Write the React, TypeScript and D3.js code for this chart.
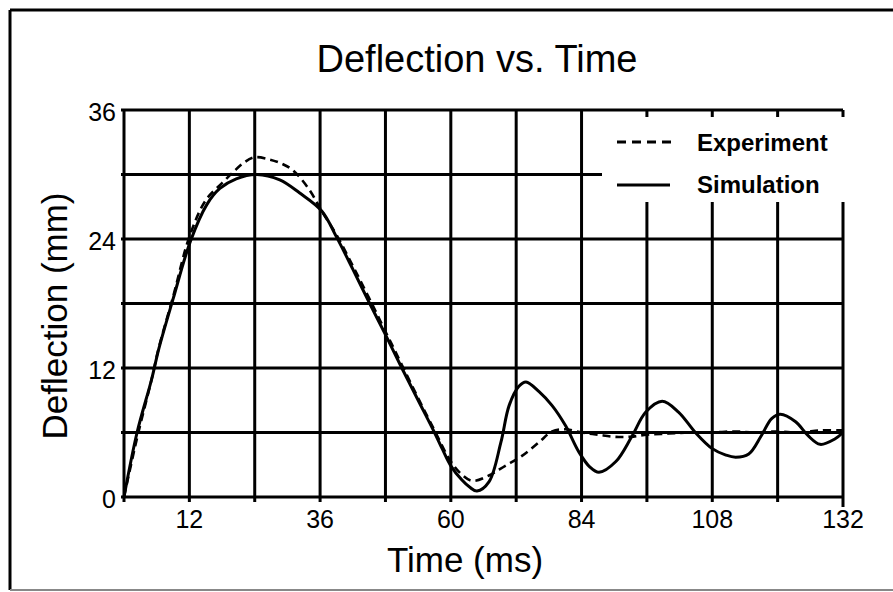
import React from "react";
import * as d3 from "d3";

const timeSim = [0, 2.4, 5.1, 6.4, 9, 12.2, 15.2, 17.6, 20.6, 24.4, 28.6, 32.2, 36.3, 39, 42, 45, 48, 51, 54, 57, 58.5, 60, 62, 63.5, 64.8, 67, 69.2, 70.7, 72.5, 73.8, 76.2, 78.6, 81.1, 83.5, 85.5, 87.2, 90.3, 93.2, 95.8, 98.8, 101.8, 104.9, 108, 110.5, 112.3, 114.7, 117, 118.9, 120.5, 123.3, 125.6, 127.8, 130.5, 132];
const simulation = [0, 6, 11, 13.8, 18.4, 23.8, 27.2, 28.7, 29.6, 30, 29.5, 28.3, 26.6, 24.2, 21.2, 18.1, 15.1, 12, 9, 6, 4.4, 2.9, 1.6, 0.9, 0.55, 1.4, 5.1, 8.5, 10.3, 10.7, 9.8, 8.5, 6.6, 4.2, 2.8, 2.3, 3.3, 5.6, 7.9, 8.9, 7.9, 6, 4.5, 3.9, 3.7, 4, 5.7, 7.3, 7.7, 7, 5.7, 4.9, 5.4, 6];

const timeExp = [0, 2.4, 5, 6.4, 9, 12, 15, 18, 20, 22, 24, 26.7, 29, 31, 34, 36.3, 39, 42, 45, 48, 51, 54, 57, 60, 62, 64, 67, 70, 73, 76.2, 78.6, 81, 84, 87, 90, 93, 96, 100, 104, 108, 112, 116, 120, 124, 128, 132];
const experiment = [0, 5.5, 10.8, 13.9, 18.6, 24.2, 27.6, 29.2, 30.2, 31.1, 31.6, 31.4, 31.0, 30.4, 28.6, 26.6, 24.4, 21.5, 18.5, 15.4, 12.3, 9.2, 6.2, 3.3, 2.1, 1.5, 2, 2.9, 3.8, 5.1, 6.1, 6.3, 6.0, 5.8, 5.6, 5.6, 5.8, 5.9, 6.0, 6.0, 6.1, 6.0, 6.1, 6.0, 6.2, 6.2];

const xTickLabels = [12, 36, 60, 84, 108, 132];
const xGrid = [0, 12, 24, 36, 48, 60, 72, 84, 96, 108, 120, 132];
const yTickLabels = [0, 12, 24, 36];
const yGrid = [0, 6, 12, 18, 24, 30, 36];

const FONT = "'Liberation Sans', Arial, Helvetica, sans-serif";

export default function App() {
  const W = 893, H = 592;
  const x = d3.scaleLinear().domain([0, 132]).range([124, 843]);
  const y = d3.scaleLinear().domain([0, 36]).range([497, 110]);

  const line = d3.line<[number, number]>()
    .x(d => x(d[0]))
    .y(d => y(d[1]))
    .curve(d3.curveCatmullRom.alpha(0.5));

  const simPath = line(timeSim.map((t, i) => [t, simulation[i]]) as [number, number][]) || "";
  const expPath = line(timeExp.map((t, i) => [t, experiment[i]]) as [number, number][]) || "";

  return (
    <svg width={W} height={H} style={{ position: "absolute", left: 0, top: 0, background: "#fff" }}>
      <rect x={0} y={0} width={W} height={H} fill="#fff" />
      {/* outer border */}
      <line x1={10} y1={10} x2={W} y2={10} stroke="#000" strokeWidth={3} />
      <line x1={10} y1={10} x2={10} y2={590} stroke="#000" strokeWidth={3} />
      <line x1={10} y1={590} x2={W} y2={590} stroke="#888" strokeWidth={2} />

      {/* title */}
      <text x={477} y={72} textAnchor="middle" fontFamily={FONT} fontSize={38} fill="#000">Deflection vs. Time</text>

      {/* grid */}
      {xGrid.map(v => (
        <line key={"gx" + v} x1={x(v)} x2={x(v)} y1={y(36)} y2={y(0) + (v === 132 ? 10 : 5)} stroke="#000" strokeWidth={3} />
      ))}
      {yGrid.map(v => (
        <line key={"gy" + v} x1={x(0) - 3} x2={x(132)} y1={y(v)} y2={y(v)} stroke="#000" strokeWidth={3} />
      ))}

      {/* curves */}
      <path d={expPath} fill="none" stroke="#000" strokeWidth={2.6} strokeDasharray="8,5" />
      <path d={simPath} fill="none" stroke="#000" strokeWidth={3} />

      {/* legend */}
      <rect x={602} y={117} width={245} height={85} fill="#fff" />
      <line x1={617} x2={674} y1={142} y2={142} stroke="#000" strokeWidth={3} strokeDasharray="9,6" />
      <line x1={617} x2={670} y1={185} y2={185} stroke="#000" strokeWidth={3} />
      <text x={697} y={151} fontFamily={FONT} fontWeight="bold" fontSize={24} fill="#000">Experiment</text>
      <text x={697} y={193} fontFamily={FONT} fontWeight="bold" fontSize={24} fill="#000">Simulation</text>

      {/* tick labels */}
      {xTickLabels.map(v => (
        <text key={"xt" + v} x={x(v)} y={528} textAnchor="middle" fontFamily={FONT} fontSize={25} fill="#000">{v}</text>
      ))}
      {yTickLabels.map(v => (
        <text key={"yt" + v} x={116} y={y(v) + 11} textAnchor="end" fontFamily={FONT} fontSize={25} fill="#000">{v}</text>
      ))}

      {/* axis labels */}
      <text x={465} y={572} textAnchor="middle" fontFamily={FONT} fontSize={35} fill="#000">Time (ms)</text>
      <text transform={`translate(67,316) rotate(-90)`} textAnchor="middle" fontFamily={FONT} fontSize={35} fill="#000">Deflection (mm)</text>
    </svg>
  );
}
